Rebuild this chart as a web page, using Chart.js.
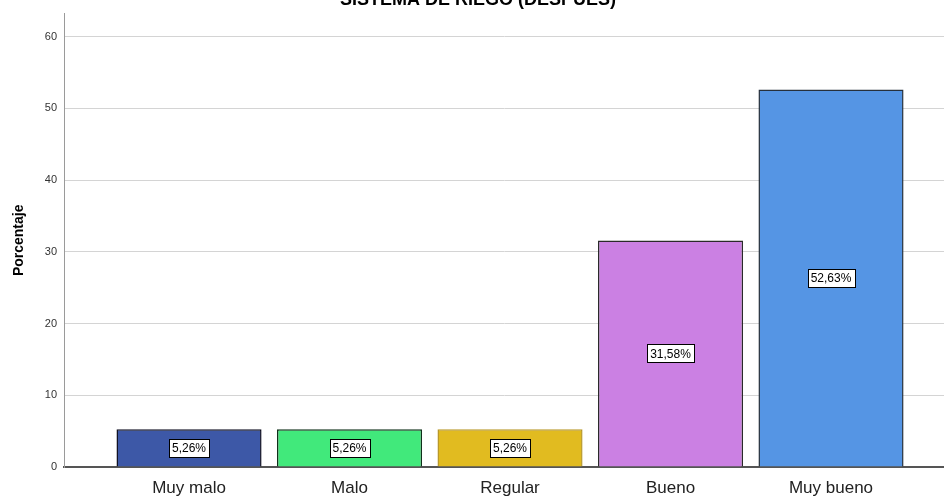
<!DOCTYPE html>
<html>
<head>
<meta charset="utf-8">
<script src="https://cdn.jsdelivr.net/npm/chart.js@4/dist/chart.umd.min.js"></script>
<style>
    html, body { margin: 0; padding: 0; background: #ffffff; }
    #wrap { width: 944px; height: 496px; position: relative; }
</style>
</head>
<body>
<div id="wrap"><canvas id="riegoChart"></canvas></div>
<script>
// Datos del gráfico
const categorias = ['Muy malo', 'Malo', 'Regular', 'Bueno', 'Muy bueno'];
const porcentajes = [5.26, 5.26, 5.26, 31.58, 52.63];
const colores = ['#3d58a7', '#41e97b', '#e1bb20', '#cb80e3', '#5595e4'];
const bordes = ['#111122', '#10301a', '#b8982a', '#2a2a2a', '#26303c'];
const ticksY = [0, 10, 20, 30, 40, 50, 60];

const titulo = 'SISTEMA DE RIEGO (DESPUÉS)';

// Título parcialmente recortado en la parte superior
const tituloPlugin = {
    id: 'tituloPlugin',
    afterDraw(chart) {
        const ctx = chart.ctx;
        ctx.save();
        ctx.font = 'bold 18px "Liberation Sans", Arial, sans-serif';
        ctx.fillStyle = '#000000';
        ctx.textAlign = 'center';
        ctx.textBaseline = 'alphabetic';
        ctx.fillText(titulo, 478, 5);
        ctx.restore();
    }
};

// Etiquetas con el porcentaje dentro de cada barra
const etiquetasPlugin = {
    id: 'etiquetasPlugin',
    afterDatasetsDraw(chart) {
        const ctx = chart.ctx;
        const meta = chart.getDatasetMeta(0);
        ctx.save();
        ctx.font = '12px "Liberation Sans", Arial, sans-serif';
        ctx.textAlign = 'center';
        ctx.textBaseline = 'middle';
        meta.data.forEach((bar, i) => {
            const texto = porcentajes[i].toFixed(2).replace('.', ',') + '%';
            const w = Math.round(ctx.measureText(texto).width + 6);
            const h = 18;
            const cx = bar.x;
            const cy = (bar.y + bar.base) / 2;
            const x0 = Math.round(cx - w / 2) + 0.5;
            const y0 = Math.round(cy - h / 2) + 0.5;
            ctx.fillStyle = '#ffffff';
            ctx.fillRect(x0, y0, w, h);
            ctx.strokeStyle = '#000000';
            ctx.lineWidth = 1;
            ctx.strokeRect(x0, y0, w, h);
            ctx.fillStyle = '#000000';
            ctx.fillText(texto, cx, cy + 1);
        });
        ctx.restore();
    }
};

const ctx = document.getElementById('riegoChart').getContext('2d');

new Chart(ctx, {
    type: 'bar',
    data: {
        datasets: [{
            label: 'Porcentaje',
            data: porcentajes.map((v, i) => ({ x: i, y: v })),
            backgroundColor: colores,
            borderColor: bordes,
            borderWidth: 1.5,
            borderSkipped: 'bottom',
            categoryPercentage: 1,
            barPercentage: 0.904
        }]
    },
    options: {
        responsive: true,
        maintainAspectRatio: false,
        animation: false,
        layout: { padding: { top: 13, left: 0, right: 0, bottom: 0 } },
        plugins: {
            legend: { display: false },
            tooltip: { enabled: false }
        },
        scales: {
            x: {
                type: 'linear',
                offset: false,
                min: -0.779,
                max: 4.704,
                afterFit: (scale) => { scale.height = 29; },
                grid: { display: false, drawTicks: false },
                border: { display: true, color: '#555555', width: 2 },
                ticks: {
                    stepSize: 1,
                    includeBounds: false,
                    autoSkip: false,
                    maxRotation: 0,
                    padding: 11,
                    color: '#222222',
                    font: { size: 17, family: '"Liberation Sans", Arial, sans-serif' },
                    callback: (v) => Number.isInteger(v) && categorias[v] !== undefined ? categorias[v] : ''
                }
            },
            y: {
                min: 0,
                max: 63.2,
                afterFit: (scale) => { scale.width = 64; },
                afterBuildTicks: (scale) => { scale.ticks = ticksY.map(v => ({ value: v })); },
                grid: { color: '#d4d4d4', lineWidth: 1, drawTicks: false },
                border: { display: true, color: '#9a9a9a', width: 1 },
                ticks: {
                    padding: 7,
                    color: '#333333',
                    font: { size: 11, family: '"Liberation Sans", Arial, sans-serif' }
                },
                title: {
                    display: true,
                    text: 'Porcentaje',
                    color: '#000000',
                    padding: { top: 11, bottom: 0 },
                    font: { size: 14, weight: 'bold', family: '"Liberation Sans", Arial, sans-serif' }
                }
            }
        }
    },
    plugins: [tituloPlugin, etiquetasPlugin]
});
</script>
</body>
</html>
